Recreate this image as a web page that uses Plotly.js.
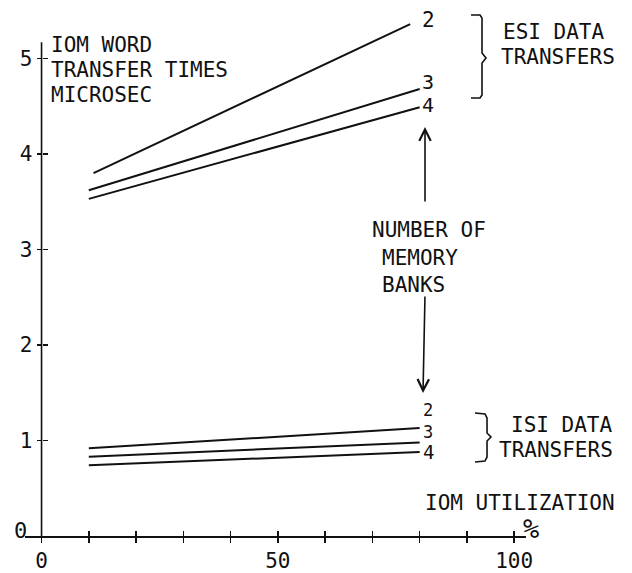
<!DOCTYPE html>
<html><head><meta charset="utf-8">
<script src="https://cdn.plot.ly/plotly-3.0.1.min.js"></script>
<style>html,body{margin:0;padding:0;background:#fff}</style>
</head><body><div id="chart" style="width:632px;height:573px"></div>
<script>
// ---- data ----
const esi2Util = [11, 78];
const esi2Time = [3.80, 5.36];
const esi3Util = [10, 80];
const esi3Time = [3.62, 4.68];
const esi4Util = [10, 80];
const esi4Time = [3.53, 4.49];
const isiUtil = [10, 80];
const isi2Time = [0.92, 1.13];
const isi3Time = [0.83, 0.98];
const isi4Time = [0.74, 0.88];
const bankLabels = ['2', '3', '4'];
const xTicks = [0, 10, 20, 30, 40, 50, 60, 70, 80, 90, 100];
const xTickText = ['0', '', '', '', '', '50', '', '', '', '', '100'];
const yTicks = [1, 2, 3, 4, 5];
const yTickText = ['1', '2', '3', '4', '5'];
const yAxisTop = 5.17;

const FONT = '"DejaVu Sans Mono", "Liberation Mono", monospace';
const INK = '#111';
const W = 632, H = 573, L = 25, R = 106, T = 6, B = 37;
const pw = W - L - R, ph = H - T - B;
const px = p => (p - L) / pw;
const py = p => (H - B - p) / ph;
const yMax = ph / 95.5;

const lineStyle = {color: INK, width: 2};
const series = [
  [esi2Util, esi2Time], [esi3Util, esi3Time], [esi4Util, esi4Time],
  [isiUtil, isi2Time], [isiUtil, isi3Time], [isiUtil, isi4Time]
];
const traces = series.map(s => ({
  x: s[0], y: s[1], type: 'scatter', mode: 'lines',
  line: lineStyle, hoverinfo: 'skip', showlegend: false
}));

function txt(text, x, y, size, xanchor) {
  return {xref: 'paper', yref: 'paper', x: px(x), y: py(y), text: text,
    showarrow: false, xanchor: xanchor || 'left', yanchor: 'middle',
    font: {family: FONT, size: size, color: INK}};
}
const annotations = [
  txt('IOM WORD', 49, 45, 21),
  txt('TRANSFER TIMES', 49, 70, 21),
  txt('MICROSEC', 49, 95, 21),
  txt('ESI DATA', 501, 32, 21),
  txt('TRANSFERS', 499, 57, 21),
  txt('ISI DATA', 615, 425, 21, 'right'),
  txt('TRANSFERS', 615, 450, 21, 'right'),
  txt('IOM UTILIZATION', 617, 503, 21, 'right'),
  txt('<i>%</i>', 531, 528, 27, 'center'),
  txt('NUMBER OF', 370, 230, 21),
  txt('MEMORY', 380, 258, 21),
  txt('BANKS', 380, 285, 21),
  txt('0', 20, 530, 22, 'center'),
  txt(bankLabels[0], 428, 20, 21, 'center'),
  txt(bankLabels[1], 428, 82, 20, 'center'),
  txt(bankLabels[2], 428, 105, 20, 'center'),
  txt(bankLabels[0], 428, 410, 17, 'center'),
  txt(bankLabels[1], 428, 432, 17, 'center'),
  txt(bankLabels[2], 428, 452, 19, 'center'),
  {xref: 'paper', yref: 'paper', x: px(425), y: py(127), ax: 0, ay: 76, text: '',
   showarrow: true, arrowhead: 5, arrowsize: 1.4, arrowwidth: 1.6, arrowcolor: INK, standoff: 0},
  {xref: 'paper', yref: 'paper', x: px(423), y: py(393), ax: 2, ay: -98, text: '',
   showarrow: true, arrowhead: 5, arrowsize: 1.4, arrowwidth: 1.6, arrowcolor: INK, standoff: 0}
];

function pathPx(pts) {
  return pts.map((p, i) => (i ? 'L' : 'M') + px(p[0]).toFixed(4) + ',' + py(p[1]).toFixed(4)).join(' ');
}
const shapes = [
  {type: 'line', xref: 'x', yref: 'y', x0: 0, x1: 0, y0: 0, y1: yAxisTop,
   line: {color: INK, width: 1.6}},
  {type: 'path', xref: 'paper', yref: 'paper',
   path: pathPx([[471, 15], [480, 15], [482, 18], [482, 53], [486, 58], [482, 63], [482, 95], [480, 98], [471, 98]]),
   line: {color: INK, width: 1.6}},
  {type: 'path', xref: 'paper', yref: 'paper',
   path: pathPx([[475, 413], [485, 414], [487, 418], [487, 433], [491, 437], [487, 441], [487, 457], [485, 461], [475, 462]]),
   line: {color: INK, width: 1.6}}
];

const axisFont = {family: FONT, size: 21, color: INK};
const layout = {
  width: W, height: H,
  margin: {l: L, r: R, t: T, b: B, pad: 0},
  paper_bgcolor: '#fff', plot_bgcolor: '#fff',
  showlegend: false,
  xaxis: {range: [-3.5, 102.5], showgrid: false, zeroline: false,
    showline: true, linecolor: INK, linewidth: 1.6,
    ticks: 'outside', ticklen: 5, tickwidth: 1.6, tickcolor: INK,
    tickmode: 'array', tickvals: xTicks, ticktext: xTickText,
    tickfont: axisFont, fixedrange: true},
  xaxis2: {range: [-3.5, 102.5], overlaying: 'x', anchor: 'y', side: 'bottom',
    showgrid: false, zeroline: false, showline: false,
    ticks: 'inside', ticklen: 5, tickwidth: 1.6, tickcolor: INK,
    tickmode: 'array', tickvals: xTicks.slice(1), showticklabels: false},
  yaxis: {range: [0, yMax], showgrid: false, zeroline: false,
    anchor: 'free', position: px(41.5), showline: false,
    ticks: 'outside', ticklen: 5, tickwidth: 1.6, tickcolor: INK,
    tickmode: 'array', tickvals: yTicks, ticktext: yTickText,
    tickfont: axisFont, fixedrange: true},
  yaxis2: {range: [0, yMax], overlaying: 'y', anchor: 'free', position: px(41.5),
    showgrid: false, zeroline: false, showline: false,
    ticks: 'inside', ticklen: 5, tickwidth: 1.6, tickcolor: INK,
    tickmode: 'array', tickvals: yTicks, showticklabels: false},
  annotations: annotations,
  shapes: shapes
};
traces.push({x: [null], y: [null], xaxis: 'x2', yaxis: 'y2', type: 'scatter', mode: 'lines', showlegend: false, hoverinfo: 'skip'});
Plotly.newPlot('chart', traces, layout, {staticPlot: true, displayModeBar: false});
</script></body></html>
